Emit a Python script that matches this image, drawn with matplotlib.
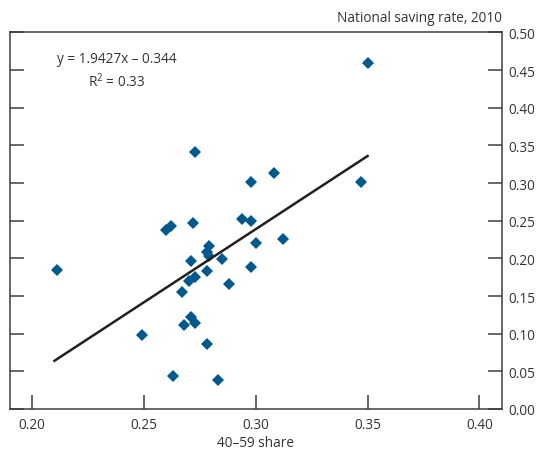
import matplotlib
matplotlib.use('Agg')
import matplotlib.pyplot as plt
import numpy as np

plt.rcParams['font.family'] = ['Open Sans', 'DejaVu Sans']
plt.rcParams['mathtext.fontset'] = 'custom'
plt.rcParams['mathtext.rm'] = 'Open Sans'

# 40-59 share vs national saving rate, 2010
share_40_59 = [0.350, 0.347, 0.273, 0.308, 0.298, 0.294, 0.298, 0.272,
               0.260, 0.262, 0.312, 0.300, 0.279, 0.278, 0.279, 0.285,
               0.271, 0.298, 0.278, 0.273, 0.270, 0.288, 0.267, 0.271,
               0.273, 0.268, 0.249, 0.278, 0.263, 0.283, 0.211]
saving_rate = [0.460, 0.302, 0.341, 0.313, 0.302, 0.252, 0.249, 0.247,
               0.237, 0.243, 0.226, 0.220, 0.217, 0.209, 0.203, 0.199,
               0.197, 0.189, 0.183, 0.175, 0.170, 0.166, 0.155, 0.122,
               0.114, 0.112, 0.098, 0.086, 0.044, 0.039, 0.185]
slope, intercept = 1.9427, -0.344
fit_x = [0.21, 0.35]

xticks = [0.20, 0.25, 0.30, 0.35, 0.40]
yticks = [0.00, 0.05, 0.10, 0.15, 0.20, 0.25, 0.30, 0.35, 0.40, 0.45, 0.50]

fig = plt.figure(figsize=(5.39, 4.52), dpi=100)
ax = fig.add_axes([0.018, 0.093, 0.913, 0.833])

ax.plot(share_40_59, saving_rate, linestyle='none', marker='D',
        markersize=6.2, color='#00588c', markeredgewidth=0, zorder=2)
fx = np.array(fit_x)
ax.plot(fx, slope * fx + intercept, color='#231f20', linewidth=1.8, zorder=3)

ax.set_xlim(0.19, 0.41)
ax.set_ylim(0.0, 0.5)
ax.set_xticks(xticks)
ax.set_xticklabels(['%.2f' % v for v in xticks])
ax.set_yticks(yticks)
ax.set_yticklabels(['%.2f' % v for v in yticks])

for s in ax.spines.values():
    s.set_color('#3d3d3d')
    s.set_linewidth(1.1)

fs = 9.8
ax.tick_params(axis='x', direction='in', length=10, width=1.1, color='#3d3d3d',
               labelsize=fs, labelcolor='#333333', pad=6)
ax.tick_params(axis='y', direction='in', length=10, width=1.1, color='#3d3d3d',
               left=True, right=True, labelleft=False, labelright=True,
               labelsize=fs, labelcolor='#333333', pad=5)

ax.set_xlabel('40\u201359 share', fontsize=fs, color='#333333', labelpad=2)
ax.text(1.0, 1.02, 'National saving rate, 2010', transform=ax.transAxes,
        ha='right', va='bottom', fontsize=fs, color='#333333')

ax.text(0.217, 0.932, 'y = 1.9427x \u2013 0.344', transform=ax.transAxes,
        ha='center', va='center', fontsize=fs, color='#333333')
ax.text(0.217, 0.873, 'R$^2$ = 0.33', transform=ax.transAxes,
        ha='center', va='center', fontsize=fs, color='#333333')

fig.savefig('out.png', dpi=100)
